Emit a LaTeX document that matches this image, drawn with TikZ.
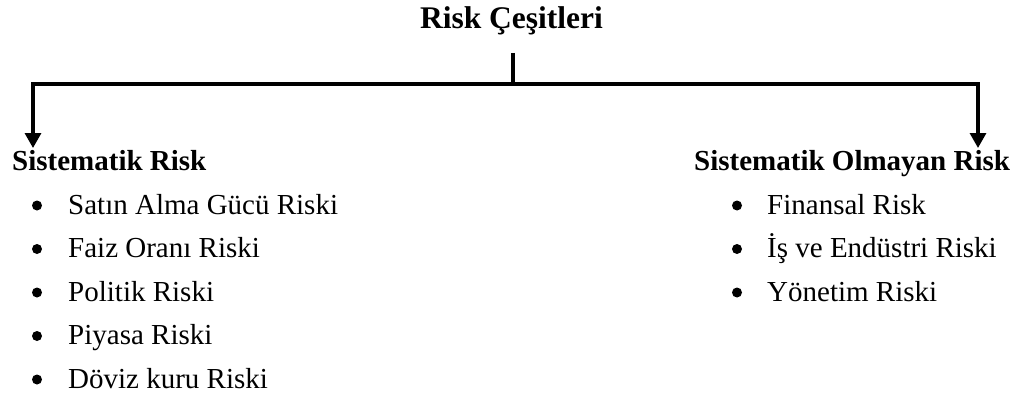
\documentclass[tikz,border=0pt]{standalone}
\usepackage{fontspec}
\setmainfont{Liberation Serif}
\usetikzlibrary{arrows.meta}
\begin{document}
\begin{tikzpicture}[x=1pt,y=-1pt,
  >={Triangle[length=15pt,width=16pt]},
  txt/.style={inner sep=0pt,anchor=base west,font=\fontsize{29}{35}\selectfont},
  head/.style={txt,font=\fontsize{29}{35}\selectfont\bfseries},
  dot/.style={circle,fill=black,inner sep=0pt,minimum size=10pt},
  conn/.style={line width=3.2pt,line join=miter}]
\useasboundingbox (0,0) rectangle (1026,396);
\node[inner sep=0pt,anchor=base,font=\fontsize{31.5}{38}\selectfont\bfseries] (title) at (511.5,28.5) {Risk Çeşitleri};
\coordinate (top) at (513,53);
\coordinate (j) at (513,84);
\coordinate (lc) at (33,84);
\coordinate (rc) at (978,84);
\coordinate (la) at (33,148);
\coordinate (ra) at (978,148);
\draw[conn] (top) -- (j);
\draw[conn,<->] (la) -- (lc) -- (rc) -- (ra);
% left column
\node[head] (sr) at (12,170) {Sistematik Risk};
\foreach \i/\t [count=\k] in {214/Satın Alma Gücü Riski,257.5/Faiz Oranı Riski,301/Politik Riski,344.5/Piyasa Riski,388/Döviz kuru Riski}{
  \node[dot] (lb\k) at (37,\i-8.5) {};
  \node[txt] (lt\k) at (68,\i) {\t};
}
% right column
\node[head] (sor) at (694,170) {Sistematik Olmayan Risk};
\foreach \i/\t [count=\k] in {214/Finansal Risk,257.5/İş ve Endüstri Riski,301/Yönetim Riski}{
  \node[dot] (rb\k) at (737,\i-8.5) {};
  \node[txt] (rt\k) at (767,\i) {\t};
}
\end{tikzpicture}
\end{document}
